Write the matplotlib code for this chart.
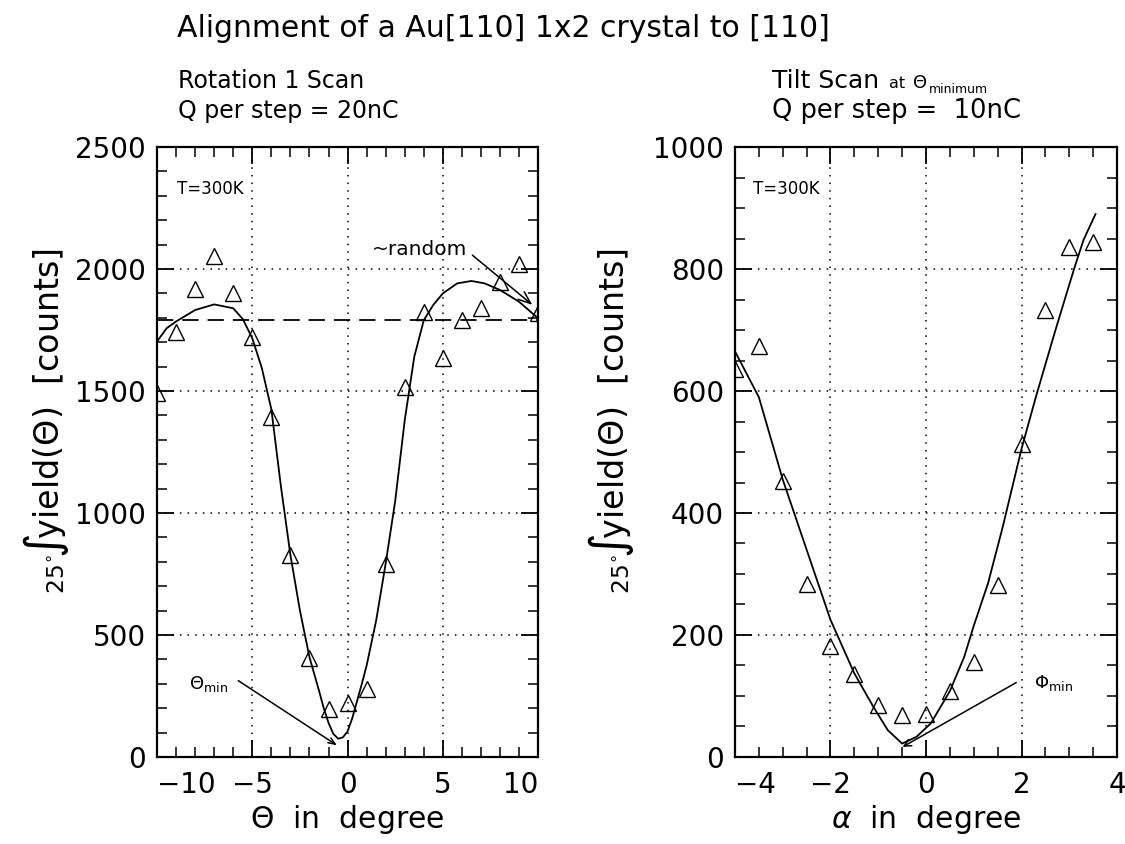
import matplotlib
matplotlib.use("Agg")
import matplotlib.pyplot as plt
from matplotlib.ticker import MultipleLocator

plt.rcParams['font.family'] = ['DejaVu Sans']
plt.rcParams['mathtext.fontset'] = 'dejavusans'

# rotation scan (left panel)
theta = [-10, -9, -8, -7, -6, -5, -4, -3, -2, -1, 0, 1, 2, 3, 4, 5, 6, 7, 8, 9, 10]
theta_counts = [1490, 1740, 1920, 2055, 1900, 1720, 1395, 828, 406, 198, 221, 279, 793,
                1515, 1825, 1635, 1790, 1840, 1945, 2020, 1820]
theta_fit_x = [-10, -9.5, -9, -8, -7, -6, -5.5, -5, -4.5, -4, -3.5, -3, -2.5, -2, -1.5,
               -1.25, -1, -0.75, -0.5, -0.25, 0, 0.25, 0.5, 0.75, 1, 1.5, 2, 2.5, 3,
               3.5, 4, 4.5, 5, 5.75, 6.5, 7.2, 8, 9, 10]
theta_fit_y = [1703, 1757, 1785, 1832, 1855, 1839, 1795, 1716, 1594, 1425, 1110, 828, 600,
               409, 272, 200, 140, 95, 75, 80, 105, 160, 230, 300, 375, 559, 793, 1049,
               1380, 1640, 1790, 1853, 1900, 1941, 1951, 1941, 1914, 1866, 1798]
random_level = 1790
theta_ticks = [-10, -5, 0, 5, 10]

# tilt scan (right panel)
alpha = [-4, -3.5, -3, -2.5, -2, -1.5, -1, -0.5, 0, 0.5, 1, 1.5, 2, 2.5, 3, 3.5]
alpha_counts = [636, 673, 452, 284, 182, 136, 85, 69, 71, 108, 155, 282, 513, 732, 836, 844]
alpha_fit_x = [-4, -3.5, -3, -2.5, -2, -1.5, -1.1, -0.8, -0.5, -0.2, 0.1, 0.5, 0.8, 1.0,
               1.3, 1.6, 2.0, 2.3, 2.7, 3.1, 3.3, 3.55]
alpha_fit_y = [665, 590, 455, 340, 225, 137, 82, 44, 22, 33, 55, 108, 164, 215,
               285, 375, 505, 590, 697, 800, 848, 890]
alpha_ticks = [-4, -2, 0, 2, 4]

fig = plt.figure(figsize=(11.25, 8.44), dpi=100)
axL = fig.add_axes([0.1396, 0.1031, 0.3387, 0.7227])
axR = fig.add_axes([0.6533, 0.1031, 0.3396, 0.7227])


def style_axes(ax, xticks, xmin, ymaj, ymin):
    ax.set_xticks(xticks)
    ax.xaxis.set_minor_locator(MultipleLocator(xmin))
    ax.yaxis.set_major_locator(MultipleLocator(ymaj))
    ax.yaxis.set_minor_locator(MultipleLocator(ymin))
    ax.tick_params(which='both', direction='in', top=True, right=True, color='black')
    ax.tick_params(which='major', length=12, width=1.3, labelsize=20)
    ax.tick_params(which='minor', length=7, width=1.1)
    ax.tick_params(axis='y', which='major', pad=8)
    ax.tick_params(axis='x', which='major', pad=10)
    for s in ax.spines.values():
        s.set_linewidth(1.6)
    ax.grid(True, which='major', linestyle=(0, (1, 4)), color='black', linewidth=1.1)


# left panel
axL.plot(theta_fit_x, theta_fit_y, color='black', lw=1.3)
axL.plot(theta, theta_counts, '^', ms=11, mfc='none', mec='black', mew=1.0)
axL.axhline(random_level, color='black', lw=1.3, dashes=(9, 5))
style_axes(axL, theta_ticks, 1, 500, 100)
axL.set_xlim(-10, 10)
axL.set_ylim(0, 2500)
axL.text(0.052, 0.946, 'T=300K', transform=axL.transAxes, fontsize=12, va='top', ha='left')
axL.text(1.3, 2078, '~random', fontsize=14.5, va='center', ha='left')
axL.annotate('', xy=(9.7, 1853), xytext=(6.55, 2057),
             arrowprops=dict(arrowstyle='->,head_length=0.9,head_width=0.35', color='black', lw=1.1,
                             shrinkA=0, shrinkB=0))
axL.text(-8.3, 300, r'$\Theta_{\mathrm{min}}$', fontsize=13, va='center', ha='left')
axL.annotate('', xy=(-0.56, 48), xytext=(-5.74, 313),
             arrowprops=dict(arrowstyle='->,head_length=0.5,head_width=0.2', color='black', lw=1.1,
                             shrinkA=0, shrinkB=0))

# right panel
axR.plot(alpha_fit_x, alpha_fit_y, color='black', lw=1.3)
axR.plot(alpha, alpha_counts, '^', ms=11, mfc='none', mec='black', mew=1.0)
style_axes(axR, alpha_ticks, 0.5, 200, 50)
axR.set_xlim(-4, 4)
axR.set_ylim(0, 1000)
axR.text(0.047, 0.946, 'T=300K', transform=axR.transAxes, fontsize=12, va='top', ha='left')
axR.text(2.27, 121, r'$\Phi_{\mathrm{min}}$', fontsize=13, va='center', ha='left')
axR.annotate('', xy=(-0.49, 16.5), xytext=(1.89, 122),
             arrowprops=dict(arrowstyle='->,head_length=0.5,head_width=0.25', color='black', lw=1.1,
                             shrinkA=0, shrinkB=0))

# edge tick labels shifted like the original
labs = axL.get_xticklabels()
labs[0].set_ha('left')
labs[-1].set_ha('right')
axR.get_xticklabels()[0].set_ha('left')

axL.set_xlabel(r'$\Theta$  in  degree', fontsize=21.5, labelpad=3)
axR.set_xlabel(r'$\alpha$  in  degree', fontsize=21.5, labelpad=3)

ylab = r'${}_{25^{\circ}}\!\int\!$yield($\Theta$)  [counts]'
fig.text(46 / 1125, 1 - 421 / 844, ylab, rotation=90, fontsize=24, ha='center', va='center')
fig.text(611 / 1125, 1 - 421 / 844, ylab, rotation=90, fontsize=24, ha='center', va='center')

# titles
fig.text(177 / 1125, 1 - 37 / 844, 'Alignment of a Au[110] 1x2 crystal to [110]',
         fontsize=21.5, ha='left', va='baseline')
fig.text(178 / 1125, 1 - 88 / 844, 'Rotation 1 Scan', fontsize=17, ha='left', va='baseline')
fig.text(178 / 1125, 1 - 118 / 844, 'Q per step = 20nC', fontsize=17, ha='left', va='baseline')
t1 = fig.text(772 / 1125, 1 - 88 / 844, 'Tilt Scan', fontsize=18, ha='left', va='baseline')
fig.canvas.draw()
inv = fig.transFigure.inverted()
x_end = inv.transform(t1.get_window_extent().get_points()[1])[0]
t2 = fig.text(x_end + 10 / 1125, 1 - 88 / 844, 'at', fontsize=11.5, ha='left', va='baseline')
fig.canvas.draw()
x_end2 = inv.transform(t2.get_window_extent().get_points()[1])[0]
t3 = fig.text(x_end2 + 7 / 1125, 1 - 88 / 844, r'$\Theta$', fontsize=13, ha='left', va='baseline')
fig.canvas.draw()
x_end3 = inv.transform(t3.get_window_extent().get_points()[1])[0]
fig.text(x_end3 + 1 / 1125, 1 - 93 / 844, 'minimum', fontsize=9, ha='left', va='baseline')
fig.text(772 / 1125, 1 - 118 / 844, 'Q per step =  10nC', fontsize=18.5, ha='left', va='baseline')

fig.savefig('out.png', dpi=100)
